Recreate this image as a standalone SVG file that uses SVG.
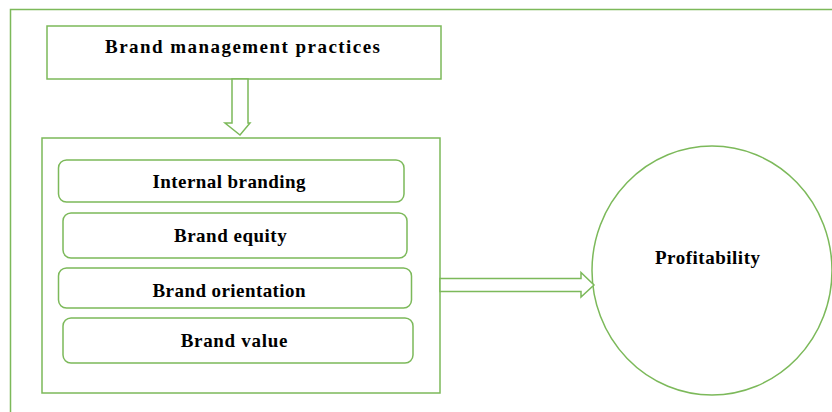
<svg xmlns="http://www.w3.org/2000/svg" width="832" height="412" viewBox="0 0 832 412">
<style>
.ln{fill:none;stroke:#7cb95a;stroke-width:1.5}
.bx{fill:#fff;stroke:#7cb95a;stroke-width:1.5}
.t{font-family:"Liberation Serif","Times New Roman",serif;font-weight:bold;font-size:19px;fill:#000;text-anchor:middle}
</style>
<rect width="832" height="412" fill="#fff"/>
<g id="frame"><path class="ln" d="M10.5,412 V9.5 H832"/></g>
<g id="top"><rect class="bx" x="47" y="26" width="394" height="53"/><text class="t" x="242.5" y="53" textLength="275">Brand management practices</text></g>
<g id="container"><rect class="bx" x="42" y="138" width="398" height="255"/></g>
<g id="internal"><rect class="bx" x="58.5" y="160" width="345.5" height="42" rx="8"/><text class="t" x="229" y="188" textLength="153">Internal branding</text></g>
<g id="equity"><rect class="bx" x="63" y="213" width="344" height="45" rx="8"/><text class="t" x="230.3" y="242" textLength="112.7">Brand equity</text></g>
<g id="orientation"><rect class="bx" x="58.5" y="268" width="353" height="40" rx="8"/><text class="t" x="229" y="297" textLength="153">Brand orientation</text></g>
<g id="value"><rect class="bx" x="63" y="318" width="350" height="45" rx="8"/><text class="t" x="234" y="347" textLength="106.7">Brand value</text></g>
<g id="profit"><ellipse class="bx" cx="712" cy="270.5" rx="120" ry="124.5"/><text class="t" x="707.5" y="264" textLength="105">Profitability</text></g>
<g id="connectors">
<path class="bx" d="M232,79 V123 H225 L240,135 L250,123 H248 V79 Z"/>
<path class="bx" d="M440,278.5 H581 V272.5 L594,285 L581,297 V291.5 H440 Z"/>
</g>
</svg>
